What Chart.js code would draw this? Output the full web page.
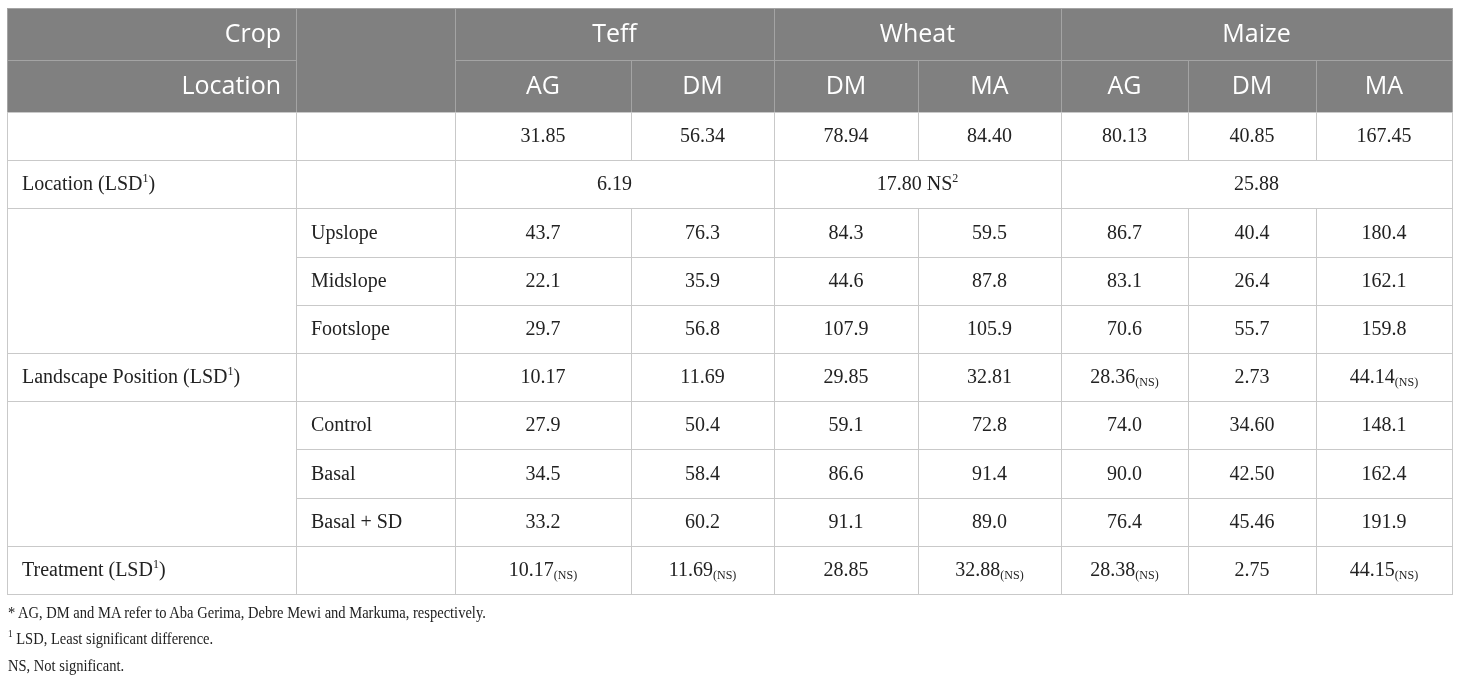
<!DOCTYPE html>
<html lang="en">
<head>
  <meta charset="UTF-8">
  <title>Yield by crop, location, landscape position and treatment</title>
  <style>
    body {
      margin: 0;
      background: #ffffff;
    }
    #wrap {
      position: relative;
      width: 1460px;
      height: 681px;
    }
    #notes {
      position: absolute;
      left: 8px;
      top: 600px;
      font-family: 'Liberation Serif', 'Times New Roman', serif;
      font-size: 17.5px;
      line-height: 25.5px;
      color: #222;
      transform: scaleX(0.83);
      transform-origin: left top;
      white-space: nowrap;
    }
    #notes sup {
      font-size: 11px;
      vertical-align: baseline;
      position: relative;
      top: -7px;
    }
  </style>
</head>
<body>
  <div id="wrap">
    <canvas id="tableChart"></canvas>
    <div id="notes">
      <div>* AG, DM and MA refer to Aba Gerima, Debre Mewi and Markuma, respectively.</div>
      <div><sup>1</sup> LSD, Least significant difference.</div>
      <div>NS, Not significant.</div>
    </div>
  </div>

  <script src="https://cdn.jsdelivr.net/npm/chart.js@4.4.3/dist/chart.umd.min.js"></script>
  <script>
    // Table content (^x^ = superscript, _x_ = subscript)
    const crops = ['Teff', 'Wheat', 'Maize'];
    const cropSpans = [2, 2, 3];
    const locations = ['AG', 'DM', 'DM', 'MA', 'AG', 'DM', 'MA'];
    const meanYield = ['31.85', '56.34', '78.94', '84.40', '80.13', '40.85', '167.45'];
    const locationLsd = ['6.19', '17.80 NS^2^', '25.88'];
    const slopePositions = ['Upslope', 'Midslope', 'Footslope'];
    const slopeValues = [
      ['43.7', '76.3', '84.3', '59.5', '86.7', '40.4', '180.4'],
      ['22.1', '35.9', '44.6', '87.8', '83.1', '26.4', '162.1'],
      ['29.7', '56.8', '107.9', '105.9', '70.6', '55.7', '159.8']
    ];
    const landscapeLsd = ['10.17', '11.69', '29.85', '32.81', '28.36_(NS)_', '2.73', '44.14_(NS)_'];
    const treatments = ['Control', 'Basal', 'Basal + SD'];
    const treatmentValues = [
      ['27.9', '50.4', '59.1', '72.8', '74.0', '34.60', '148.1'],
      ['34.5', '58.4', '86.6', '91.4', '90.0', '42.50', '162.4'],
      ['33.2', '60.2', '91.1', '89.0', '76.4', '45.46', '191.9']
    ];
    const treatmentLsd = ['10.17_(NS)_', '11.69_(NS)_', '28.85', '32.88_(NS)_', '28.38_(NS)_', '2.75', '44.15_(NS)_'];

    // Layout: relative column widths and row heights
    const colWidths = [289, 159, 176, 143, 144, 143, 127, 128, 136];
    const rowHeights = [52, 52, 48.2, 48.2, 48.2, 48.2, 48.2, 48.2, 48.2, 48.2, 48.2, 48.2];
    const colEdges = colWidths.reduce((a, w) => { a.push(a[a.length - 1] + w); return a; }, [0]);
    const rowEdges = rowHeights.reduce((a, h) => { a.push(a[a.length - 1] + h); return a; }, [0]);

    // Build the cell list
    const cells = [];
    function cell(c0, c1, r0, r1, text, align, header) {
      cells.push({ c0, c1, r0, r1, text, align: align || 'center', header: !!header });
    }
    cell(0, 1, 0, 1, 'Crop', 'right', true);
    cell(0, 1, 1, 2, 'Location', 'right', true);
    cell(1, 2, 0, 2, '', 'center', true);
    let c = 2;
    crops.forEach((name, i) => { cell(c, c + cropSpans[i], 0, 1, name, 'center', true); c += cropSpans[i]; });
    locations.forEach((loc, i) => cell(2 + i, 3 + i, 1, 2, loc, 'center', true));

    cell(0, 1, 2, 3, '');
    cell(1, 2, 2, 3, '');
    meanYield.forEach((v, i) => cell(2 + i, 3 + i, 2, 3, v));

    cell(0, 1, 3, 4, 'Location (LSD^1^)', 'left');
    cell(1, 2, 3, 4, '');
    c = 2;
    locationLsd.forEach((v, i) => { cell(c, c + cropSpans[i], 3, 4, v); c += cropSpans[i]; });

    cell(0, 1, 4, 7, '');
    slopePositions.forEach((p, j) => {
      cell(1, 2, 4 + j, 5 + j, p, 'left');
      slopeValues[j].forEach((v, i) => cell(2 + i, 3 + i, 4 + j, 5 + j, v));
    });

    cell(0, 1, 7, 8, 'Landscape Position (LSD^1^)', 'left');
    cell(1, 2, 7, 8, '');
    landscapeLsd.forEach((v, i) => cell(2 + i, 3 + i, 7, 8, v));

    cell(0, 1, 8, 11, '');
    treatments.forEach((t, j) => {
      cell(1, 2, 8 + j, 9 + j, t, 'left');
      treatmentValues[j].forEach((v, i) => cell(2 + i, 3 + i, 8 + j, 9 + j, v));
    });

    cell(0, 1, 11, 12, 'Treatment (LSD^1^)', 'left');
    cell(1, 2, 11, 12, '');
    treatmentLsd.forEach((v, i) => cell(2 + i, 3 + i, 11, 12, v));

    const headerFont = "'Open Sans', 'Noto Sans', sans-serif";
    const bodyFont = "'Liberation Serif', 'Times New Roman', serif";

    // split "17.80 NS^2^" style text into runs
    function parseRuns(text) {
      const runs = [];
      const re = /\^([^^]+)\^|_([^_]+)_/g;
      let last = 0, m;
      while ((m = re.exec(text)) !== null) {
        if (m.index > last) runs.push({ t: text.slice(last, m.index), k: 'n' });
        runs.push(m[1] !== undefined ? { t: m[1], k: 'sup' } : { t: m[2], k: 'sub' });
        last = re.lastIndex;
      }
      if (last < text.length) runs.push({ t: text.slice(last), k: 'n' });
      return runs;
    }

    function drawRich(ctx, text, x, y, align, size, family, color) {
      const runs = parseRuns(text);
      const small = Math.round(size * 0.62);
      let total = 0;
      runs.forEach(r => {
        ctx.font = (r.k === 'n' ? size : small) + 'px ' + family;
        r.w = ctx.measureText(r.t).width;
        total += r.w;
      });
      let px = align === 'left' ? x : align === 'right' ? x - total : x - total / 2;
      ctx.fillStyle = color;
      ctx.textAlign = 'left';
      ctx.textBaseline = 'middle';
      runs.forEach(r => {
        let dy = 0;
        if (r.k === 'sup') dy = -size * 0.33;
        if (r.k === 'sub') dy = size * 0.22;
        ctx.font = (r.k === 'n' ? size : small) + 'px ' + family;
        ctx.fillText(r.t, px, y + dy);
        px += r.w;
      });
    }

    const tablePlugin = {
      id: 'tablePlugin',
      afterDraw(chart) {
        const ctx = chart.ctx;
        const xs = chart.scales.x;
        const ys = chart.scales.y;
        const box = cl => ({
          x0: Math.round(xs.getPixelForValue(colEdges[cl.c0])),
          x1: Math.round(xs.getPixelForValue(colEdges[cl.c1])),
          y0: Math.round(ys.getPixelForValue(rowEdges[cl.r0])),
          y1: Math.round(ys.getPixelForValue(rowEdges[cl.r1]))
        });
        ctx.save();
        cells.forEach(cl => {
          if (!cl.header) return;
          const b = box(cl);
          ctx.fillStyle = '#808080';
          ctx.fillRect(b.x0, b.y0, b.x1 - b.x0, b.y1 - b.y0);
        });
        cells.forEach(cl => {
          const b = box(cl);
          ctx.lineWidth = 1;
          ctx.strokeStyle = cl.header ? '#a4a4a4' : '#c9c9c9';
          ctx.strokeRect(b.x0 + 0.5, b.y0 + 0.5, b.x1 - b.x0, b.y1 - b.y0);
          if (!cl.text) return;
          const ym = (b.y0 + b.y1) / 2;
          const tx = cl.align === 'left' ? b.x0 + 15 : cl.align === 'right' ? b.x1 - 15 : (b.x0 + b.x1) / 2;
          if (cl.header) {
            drawRich(ctx, cl.text, tx, ym + 1, cl.align, 25, headerFont, '#ffffff');
          } else {
            drawRich(ctx, cl.text, tx, ym + 1, cl.align, 20, bodyFont, '#222222');
          }
        });
        ctx.restore();
      }
    };

    const ctx = document.getElementById('tableChart').getContext('2d');
    const tableChart = new Chart(ctx, {
      type: 'scatter',
      data: { datasets: [] },
      options: {
        responsive: true,
        maintainAspectRatio: false,
        animation: false,
        layout: {
          padding: { left: 7, right: 8, top: 8, bottom: 87 }
        },
        scales: {
          x: { type: 'linear', min: 0, max: colEdges[colEdges.length - 1], display: false },
          y: { type: 'linear', min: 0, max: rowEdges[rowEdges.length - 1], reverse: true, display: false }
        },
        plugins: {
          legend: { display: false },
          tooltip: { enabled: false }
        }
      },
      plugins: [tablePlugin]
    });
  </script>
</body>
</html>
